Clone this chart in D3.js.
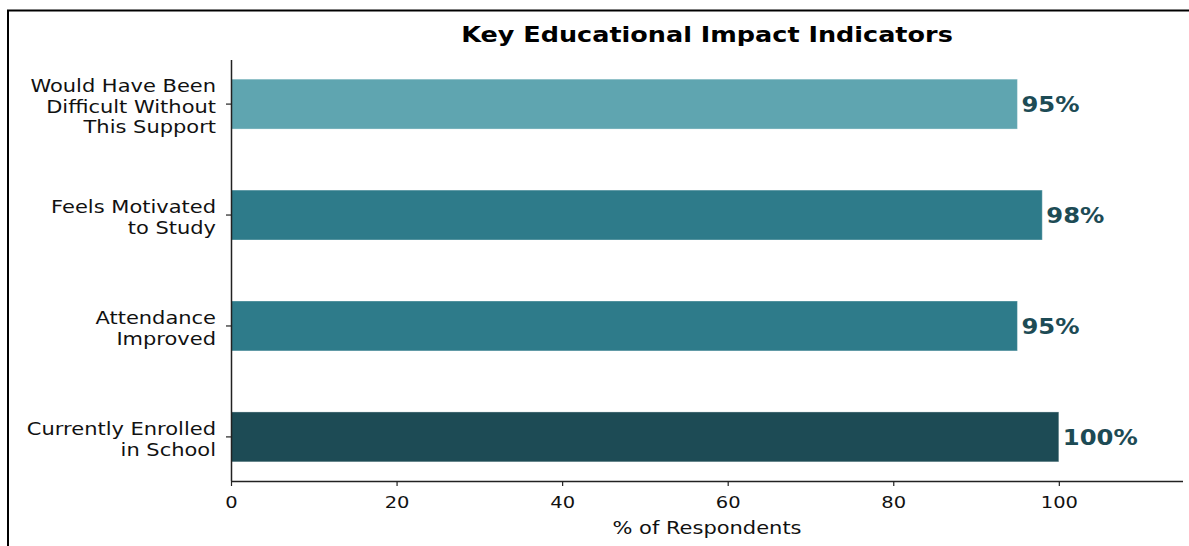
<!DOCTYPE html>
<html><head><meta charset="utf-8">
<script src="https://cdn.jsdelivr.net/npm/d3@7"></script>
<style>body{margin:0;background:#fff}svg{display:block}text{font-family:"DejaVu Sans",sans-serif}</style>
</head><body>
<script>
const categories = [["Currently Enrolled","in School"],["Attendance","Improved"],["Feels Motivated","to Study"],["Would Have Been","Difficult Without","This Support"]];
const values = [100, 95, 98, 95];
const colors = ["#1d4b55", "#2e7b8a", "#2e7b8a", "#5fa5b0"];
const xTicks = [0, 20, 40, 60, 80, 100];
const title = "Key Educational Impact Indicators";
const xLabel = "% of Respondents";

(function(){
const W = 1189, H = 546;
const svg = d3.select("body").append("svg").attr("width", W).attr("height", H);
svg.append("rect").attr("width", W).attr("height", H).attr("fill", "#fff");
svg.append("path").attr("d", `M8,${H+5} L8,10.5 L${W+5},10.5`).attr("fill","none").attr("stroke","#000").attr("stroke-width",2);

const mL = 231, mR = 1183, mT = 60, mB = 481;
const x = d3.scaleLinear().domain([0, 115]).range([mL, mR]);
const barH = 0.45;
const y = d3.scaleLinear().domain([-0.3975, 3.3975]).range([mB, mT]);
const sq = 0.85;

const g = svg.append("g");
values.forEach((v, i) => {
  g.append("rect")
    .attr("x", x(0)).attr("y", y(i + barH/2))
    .attr("width", x(v) - x(0)).attr("height", y(i - barH/2) - y(i + barH/2))
    .attr("fill", colors[i]).attr("stroke", "#ffffff").attr("stroke-opacity", 0.35).attr("stroke-width", 1);
  g.append("text").attr("transform", `translate(${x(v) + 4},${y(i)}) scale(1,0.88)`).attr("dy", "0.36em")
    .attr("font-size", 24.3).attr("font-weight", "bold").attr("fill", "#1d4b55")
    .text(v + "%");
});

const xa = svg.append("g").attr("transform", `translate(0,${mB})`)
  .call(d3.axisBottom(x).tickValues(xTicks).tickSize(5).tickPadding(4).tickFormat(d3.format("d")));
xa.select(".domain").attr("stroke", "#222").attr("stroke-width", 1.5).attr("d", `M${mL},0.5H${mR}`);
xa.selectAll(".tick line").attr("stroke", "#222").attr("stroke-width", 1.2);
xa.selectAll(".tick text").attr("font-size", 19.5).attr("fill", "#111").attr("font-family", "DejaVu Sans")
  .attr("y", null).attr("dy", null)
  .attr("transform", `translate(0,21) scale(1,${sq})`).attr("dy", "0.36em");

const ya = svg.append("g").attr("transform", `translate(${mL},0)`);
ya.append("line").attr("x1", 0.5).attr("x2", 0.5).attr("y1", mT).attr("y2", mB).attr("stroke", "#222").attr("stroke-width", 1.5);
categories.forEach((lines, i) => {
  const cy = y(i) + 2;
  ya.append("line").attr("x1", -5).attr("x2", 0).attr("y1", y(i)).attr("y2", y(i)).attr("stroke", "#222").attr("stroke-width", 1.2);
  const lh = 20.7 / sq;
  const t = ya.append("text").attr("transform", `translate(-15,${cy}) scale(1,${sq})`)
    .attr("text-anchor", "end").attr("font-size", 21).attr("fill", "#111");
  lines.forEach((s, k) => {
    t.append("tspan").attr("x", 0).attr("y", (k - (lines.length - 1) / 2) * lh).attr("dy", "0.36em").text(s);
  });
});

svg.append("text").attr("transform", `translate(${(mL + mR) / 2},34) scale(1,0.85)`).attr("dy", "0.36em")
  .attr("text-anchor", "middle").attr("font-size", 25.5).attr("font-weight", "bold").attr("fill", "#000").text(title);
svg.append("text").attr("transform", `translate(${(mL + mR) / 2},528) scale(1,${sq})`).attr("dy", "0.36em")
  .attr("text-anchor", "middle").attr("font-size", 21).attr("fill", "#111").text(xLabel);
})();
</script>
</body></html>
